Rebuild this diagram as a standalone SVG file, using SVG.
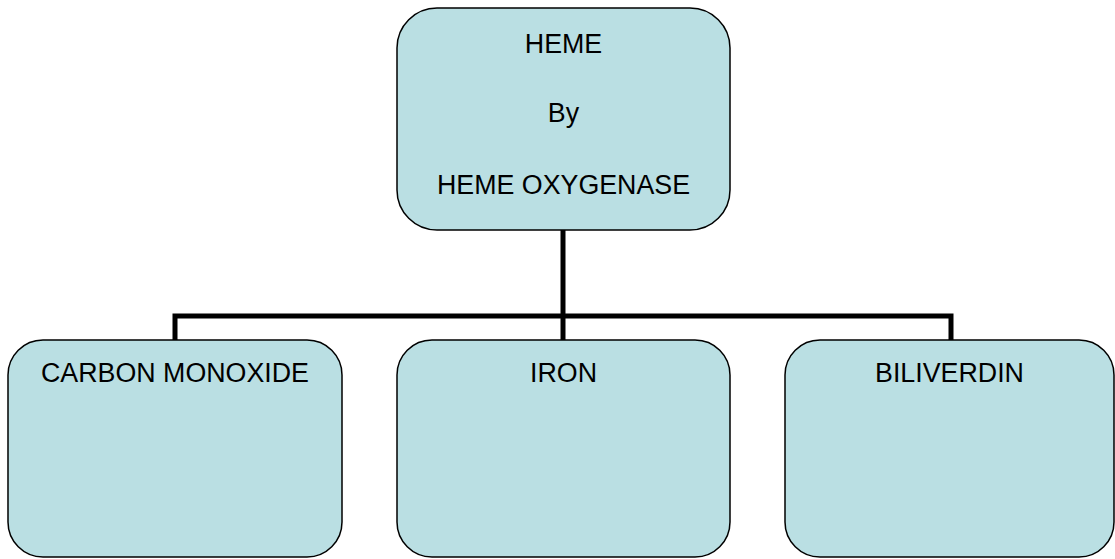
<svg xmlns="http://www.w3.org/2000/svg" width="1115" height="559" viewBox="0 0 1115 559">
  <style>
    .box { fill: #BADFE3; stroke: #000; stroke-width: 1.5; }
    .lbl { font-family: "Liberation Sans", Arial, sans-serif; font-size: 26.8px; fill: #000; text-anchor: middle; }
    .conn { fill: none; stroke: #000; stroke-width: 5; stroke-linejoin: miter; stroke-linecap: butt; }
  </style>
  <rect width="1115" height="559" fill="#fff"/>
  <g id="connectors">
    <path class="conn" d="M563,230 V340"/>
    <path class="conn" d="M175,340 V316 H951 V340"/>
  </g>
  <g id="heme">
    <rect class="box" x="397" y="8" width="333" height="222" rx="40" ry="40"/>
    <text class="lbl" x="563.5" y="53">HEME</text>
    <text class="lbl" x="563.5" y="122">By</text>
    <text class="lbl" x="563.5" y="194">HEME OXYGENASE</text>
  </g>
  <g id="carbon-monoxide">
    <rect class="box" x="8" y="340" width="334" height="217" rx="35" ry="35"/>
    <text class="lbl" x="175" y="382">CARBON MONOXIDE</text>
  </g>
  <g id="iron">
    <rect class="box" x="397" y="340" width="333" height="217" rx="35" ry="35"/>
    <text class="lbl" x="563.5" y="382">IRON</text>
  </g>
  <g id="biliverdin">
    <rect class="box" x="785" y="340" width="329" height="217" rx="35" ry="35"/>
    <text class="lbl" x="949.5" y="382">BILIVERDIN</text>
  </g>
</svg>
